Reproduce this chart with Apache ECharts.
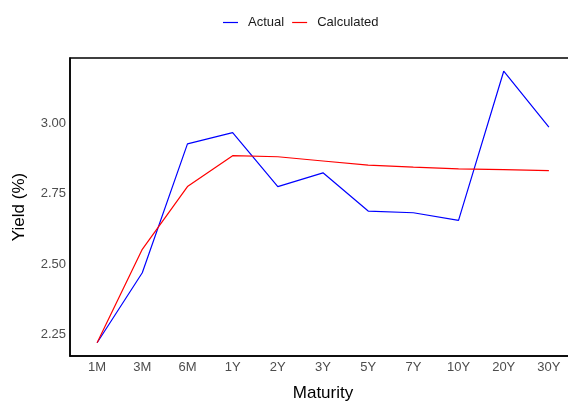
<!DOCTYPE html>
<html><head><meta charset="utf-8">
<script src="https://cdn.jsdelivr.net/npm/echarts@6/dist/echarts.min.js"></script>
<style>html,body{margin:0;padding:0;background:#fff}#c{width:568px;height:403px}</style>
</head><body><div id="c"></div>
<script>
const categories = ['1M','3M','6M','1Y','2Y','3Y','5Y','7Y','10Y','20Y','30Y'];
const actual = [2.220, 2.469, 2.927, 2.967, 2.775, 2.824, 2.688, 2.682, 2.655, 3.185, 2.986];
const calculated = [2.220, 2.552, 2.775, 2.885, 2.881, 2.866, 2.851, 2.844, 2.838, 2.835, 2.832];
const yTicks = [2.25, 2.50, 2.75, 3.00];

const chart = echarts.init(document.getElementById('c'));
const font = 'Liberation Sans, Arial, sans-serif';
chart.setOption({
  animation: false,
  textStyle: {fontFamily: font},
  legend: {
    top: 16, left: 223, padding: 0, itemWidth: 15, itemHeight: 1.2, itemGap: 8,
    icon: 'rect',
    textStyle: {fontSize: 13, color: '#1a1a1a', fontFamily: font, padding: [0, 0, 0, 5]},
    data: ['Actual', 'Calculated']
  },
  grid: {left: 70, top: 58, width: 506, height: 298, outerBoundsMode: 'none',
         show: true, borderColor: '#000', borderWidth: 1.5},
  xAxis: {
    type: 'value', min: -0.6, max: 10.6,
    name: 'Maturity', nameLocation: 'middle', nameGap: 29,
    nameTextStyle: {fontSize: 17, color: '#000', fontFamily: font},
    axisLine: {show: true, onZero: false, lineStyle: {color: '#000', width: 1.5}},
    axisTick: {show: false},
    splitLine: {show: false},
    axisLabel: {
      customValues: categories.map((c, i) => i),
      formatter: v => categories[Math.round(v)] || '',
      fontSize: 13, color: '#4d4d4d', margin: 5, fontFamily: font
    }
  },
  yAxis: {
    type: 'value', min: 2.173, max: 3.232,
    name: 'Yield (%)', nameLocation: 'middle', nameGap: 42,
    nameTextStyle: {fontSize: 17, color: '#000', fontFamily: font},
    axisLine: {show: true, onZero: false, lineStyle: {color: '#000', width: 1.5}},
    axisTick: {show: false},
    splitLine: {show: false},
    axisLabel: {
      customValues: yTicks,
      formatter: v => v.toFixed(2),
      fontSize: 13, color: '#4d4d4d', margin: 4, fontFamily: font
    }
  },
  series: [
    {name: 'Actual', type: 'line', symbol: 'none', data: actual.map((v, i) => [i, v]),
     lineStyle: {color: '#0000ff', width: 1.2}, itemStyle: {color: '#0000ff'}},
    {name: 'Calculated', type: 'line', symbol: 'none', data: calculated.map((v, i) => [i, v]),
     lineStyle: {color: '#ff0000', width: 1.2}, itemStyle: {color: '#ff0000'}}
  ]
});
</script></body></html>
